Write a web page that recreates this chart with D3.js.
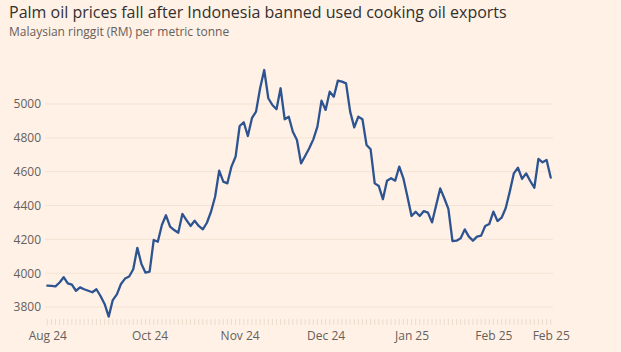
<!DOCTYPE html>
<html>
<head>
<meta charset="utf-8">
<script src="https://cdn.jsdelivr.net/npm/d3@7"></script>
<style>
  html, body { margin: 0; padding: 0; background: #fff1e5; }
  svg { display: block; font-family: "Open Sans", "Noto Sans", sans-serif; }
</style>
</head>
<body>
<script>
// palm oil price, RM per tonne, one value per trading day
const prices = [
  3926, 3925, 3922, 3945, 3976, 3940, 3932, 3896, 3916, 3905,
  3896, 3887, 3905, 3865, 3818, 3743, 3841, 3875, 3936, 3968,
  3980, 4023, 4150, 4054, 4003, 4009, 4196, 4186, 4285, 4342,
  4275, 4255, 4239, 4350, 4314, 4279, 4310, 4279, 4259, 4298,
  4363, 4452, 4606, 4541, 4531, 4630, 4688, 4870, 4892, 4811,
  4916, 4955, 5093, 5201, 5034, 4994, 4969, 5093, 4910, 4925,
  4836, 4787, 4649, 4693, 4738, 4791, 4866, 5020, 4965, 5073,
  5043, 5138, 5132, 5122, 4955, 4862, 4925, 4910, 4758, 4732,
  4531, 4515, 4437, 4547, 4561, 4547, 4630, 4561, 4452, 4338,
  4363, 4338, 4367, 4358, 4300, 4400, 4501, 4443, 4380, 4190,
  4192, 4206, 4259, 4216, 4192, 4216, 4222, 4279, 4291, 4364,
  4308, 4328, 4384, 4482, 4590, 4624, 4557, 4590, 4545, 4505,
  4675, 4655, 4669, 4565
];

const xTickIndex = [0, 25, 47, 68, 89, 109, 123];
const xTickLabels = ["Aug 24", "Oct 24", "Nov 24", "Dec 24", "Jan 25", "Feb 25", "Feb 25"];
const yTicks = [3800, 4000, 4200, 4400, 4600, 4800, 5000];

const width = 621, height = 352;

const svg = d3.select("body").append("svg")
    .attr("width", width)
    .attr("height", height);

svg.append("rect")
    .attr("width", width)
    .attr("height", height)
    .attr("fill", "#fff1e5");

svg.append("text")
    .attr("x", 9)
    .attr("y", 17.5)
    .attr("fill", "#33302e")
    .style("font-size", "16px")
    .text("Palm oil prices fall after Indonesia banned used cooking oil exports");

svg.append("text")
    .attr("x", 9)
    .attr("y", 36)
    .attr("fill", "#66605c")
    .style("font-size", "12px")
    .text("Malaysian ringgit (RM) per metric tonne");

const x = d3.scaleLinear()
    .domain([0, prices.length - 1])
    .range([47.3, 550.7]);

const y = d3.scaleLinear()
    .domain([3800, 5000])
    .range([307, 104]);

// gridlines
svg.append("g")
    .selectAll("line")
    .data(yTicks)
    .enter().append("line")
    .attr("x1", 45)
    .attr("x2", 553)
    .attr("y1", d => y(d))
    .attr("y2", d => y(d))
    .attr("stroke", "#f3e3d4")
    .attr("stroke-width", 1);

// y axis labels
const yAxis = svg.append("g")
    .attr("transform", "translate(41,0)")
    .call(d3.axisLeft(y).tickValues(yTicks).tickFormat(d3.format("d")).tickSize(0).tickPadding(0));
yAxis.select(".domain").remove();
yAxis.selectAll("text")
    .attr("fill", "#66605c")
    .style("font-size", "12px")
    .style("font-family", "\"Open Sans\", sans-serif");

// small ticks at the bottom, one per trading day
svg.append("g")
    .selectAll("line")
    .data(prices)
    .enter().append("line")
    .attr("x1", (d, i) => x(i))
    .attr("x2", (d, i) => x(i))
    .attr("y1", 319)
    .attr("y2", 325)
    .attr("stroke", "#eddccd")
    .attr("stroke-width", 1);

// x axis labels
const xAxis = svg.append("g")
    .attr("transform", "translate(0,331)")
    .call(d3.axisBottom(x)
        .tickValues(xTickIndex)
        .tickFormat((d, i) => xTickLabels[i])
        .tickSize(0)
        .tickPadding(0));
xAxis.select(".domain").remove();
xAxis.selectAll("text")
    .attr("fill", "#66605c")
    .style("font-size", "12px")
    .style("font-family", "\"Open Sans\", sans-serif");

const line = d3.line()
    .x((d, i) => x(i))
    .y(d => y(d));

svg.append("path")
    .datum(prices)
    .attr("d", line)
    .attr("fill", "none")
    .attr("stroke", "#2d5491")
    .attr("stroke-width", 2.3)
    .attr("stroke-linejoin", "round")
    .attr("stroke-linecap", "round");
</script>
</body>
</html>
